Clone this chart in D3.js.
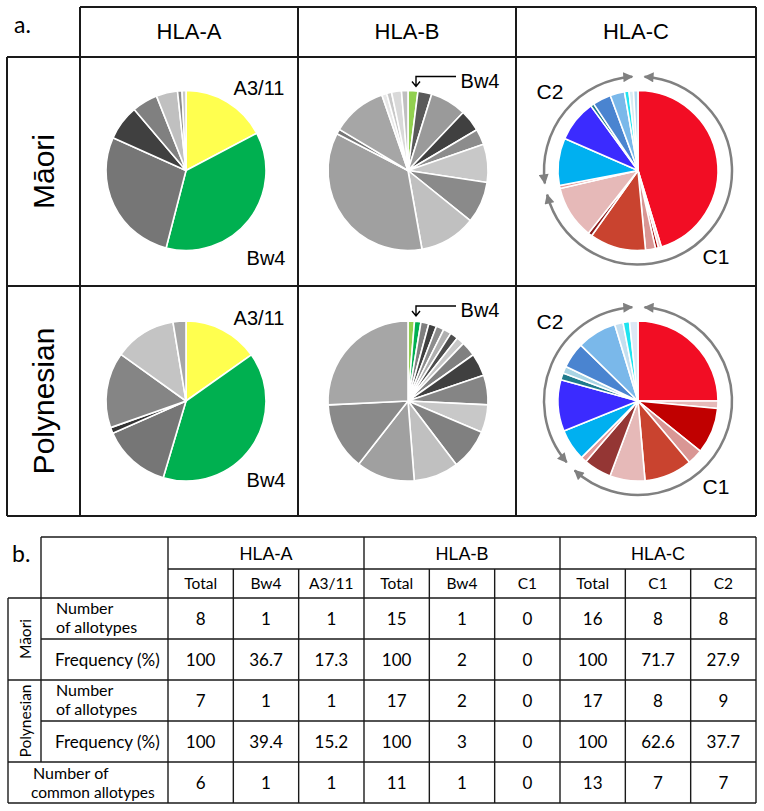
<!DOCTYPE html>
<html><head><meta charset="utf-8">
<script src="https://cdn.jsdelivr.net/npm/d3@7"></script>
<style>body{margin:0;background:#fff}svg{display:block}</style>
</head><body>
<svg id="c" width="764" height="811"></svg>
<script>
// ---------- DATA ----------
const loci = ["HLA-A", "HLA-B", "HLA-C"];
const populations = ["Māori", "Polynesian"];

// HLA-A allotype frequencies (%), clockwise from 12 o'clock
const hlaA_maori = [17.3, 36.7, 27.7, 7.1, 5.2, 4.3, 0.9, 0.8];
const hlaA_maoriColors = ["#ffff4f","#00b050","#767676","#404040","#808080","#c0c0c0","#8c8c8c","#c8c8c8"];
const hlaA_poly = [15.2, 39.4, 13.8, 1.2, 15.3, 12.5, 2.6];
const hlaA_polyColors = ["#ffff4f","#00b050","#767676","#333333","#858585","#c4c4c4","#a6a6a6"];

// HLA-B
const hlaB_maori = [2.0, 2.8, 7.3, 4.4, 3.2, 7.7, 8.4, 11.4, 35.4, 1.0, 11.1, 1.0, 1.0, 2.0, 1.3];
const hlaB_maoriColors = ["#92d050","#595959","#9a9a9a","#404040","#8c8c8c","#c8c8c8","#8a8a8a","#c0c0c0","#a0a0a0","#777777","#a6a6a6","#e8e8e8","#c8c8c8","#d9d9d9","#bfbfbf"];
const hlaB_poly = [1.3, 1.3, 1.6, 1.6, 1.6, 1.6, 1.6, 1.6, 3.0, 4.6, 6.0, 5.6, 8.3, 9.1, 11.8, 13.7, 25.8];
const hlaB_polyColors = ["#92d050","#00b050","#7f7f7f","#404040","#8c8c8c","#b0b0b0","#4d4d4d","#c8c8c8","#808080","#404040","#858585","#c8c8c8","#808080","#c0c0c0","#a0a0a0","#8a8a8a","#a6a6a6"];

// HLA-C
const hlaC_maori = [45.1, 0.6, 0.6, 2.0, 11.3, 0.8, 10.7, 0.6, 9.5, 8.4, 0.7, 3.7, 2.9, 0.9, 0.9, 0.9];
const hlaC_maoriColors = ["#f20d24","#f4c7c7","#a50000","#d99694","#c9432f","#8b1c1c","#e6b9b8","#e39a9a","#00b0f0","#3b2bff","#1f7a8c","#4a84d0","#7ab8ea","#1fe4f0","#d8ecf4","#b4d8ee"];
const hlaC_poly = [25.0, 1.5, 9.3, 3.1, 9.7, 7.1, 5.6, 1.2, 6.4, 10.4, 1.4, 1.4, 5.2, 8.0, 1.7, 1.3, 1.7];
const hlaC_polyColors = ["#f20d24","#e6b9b8","#c00000","#d99694","#c9432f","#e6b9b8","#943634","#e39a9a","#00b0f0","#3b2bff","#1f7a8c","#a8d4e4","#4a84d0","#7ab8ea","#c5dff0","#1fe4f0","#dce8f5"];

// Table
const subHeaders = [["Total","Bw4","A3/11"],["Total","Bw4","C1"],["Total","C1","C2"]];
const maoriNumber = [8, 1, 1, 15, 1, 0, 16, 8, 8];
const maoriFreq   = [100, 36.7, 17.3, 100, 2, 0, 100, 71.7, 27.9];
const polyNumber  = [7, 1, 1, 17, 2, 0, 17, 8, 9];
const polyFreq    = [100, 39.4, 15.2, 100, 3, 0, 100, 62.6, 37.7];
const commonNumber= [6, 1, 1, 11, 1, 0, 13, 7, 7];

// ---------- DRAW ----------
const svg = d3.select("#c");
const FA = "'Liberation Sans', Arial, sans-serif";
const FC = "Lato, 'Open Sans', sans-serif";
const LINE = "#1a1a1a";

// defs: arrowhead marker
const defs = svg.append("defs");
defs.append("marker").attr("id","ah").attr("viewBox","0 0 10 10")
  .attr("refX",9).attr("refY",5).attr("markerWidth",11).attr("markerHeight",10)
  .attr("markerUnits","userSpaceOnUse").attr("orient","auto-start-reverse")
  .append("path").attr("d","M0,0 L10,5 L0,10 z").attr("fill","#808080");

// ----- Part a grid -----
const colEdges = [80, 298, 516, 756];
const rowEdges = [57, 286, 516];
const ga = svg.append("g");
function line(g,x1,y1,x2,y2,w){ g.append("line").attr("x1",x1).attr("y1",y1).attr("x2",x2).attr("y2",y2).attr("stroke",LINE).attr("stroke-width",w); }
line(ga,80,7,756,7,2);
colEdges.forEach(x=>line(ga,x,7,x,516,2));
line(ga,7,57,7,516,2);
rowEdges.forEach(y=>line(ga,7,y,756,y,2));

ga.append("text").attr("x",14).attr("y",33).attr("font-family",FC).attr("font-size",23).text("a.");
loci.forEach((l,i)=>{
  ga.append("text").attr("x",(colEdges[i]+colEdges[i+1])/2).attr("y",39)
    .attr("text-anchor","middle").attr("font-family",FA).attr("font-size",22).text(l);
});
populations.forEach((p,j)=>{
  const cy=(rowEdges[j]+rowEdges[j+1])/2;
  ga.append("text").attr("transform",`translate(54,${cy}) rotate(-90)`)
    .attr("text-anchor","middle").attr("font-family",FA).attr("font-size",30).text(p);
});

const pieSets = [
  [[hlaA_maori,hlaA_maoriColors],[hlaB_maori,hlaB_maoriColors],[hlaC_maori,hlaC_maoriColors]],
  [[hlaA_poly,hlaA_polyColors],[hlaB_poly,hlaB_polyColors],[hlaC_poly,hlaC_polyColors]]
];
const colOffset = [-3, 1, 2];
const R = 80;
const pie = d3.pie().sort(null).value(d=>d);
const arc = d3.arc().innerRadius(0).outerRadius(R);
const centers = [];
pieSets.forEach((row,j)=>{
  centers.push([]);
  row.forEach(([vals,cols],i)=>{
    const cx=(colEdges[i]+colEdges[i+1])/2+colOffset[i];
    const cy=(rowEdges[j]+rowEdges[j+1])/2 - (j===0?1:0);
    centers[j].push([cx,cy]);
    const g=svg.append("g").attr("transform",`translate(${cx},${cy})`);
    g.selectAll("path").data(pie(vals)).join("path")
      .attr("d",arc).attr("fill",(d,k)=>cols[k])
      .attr("stroke","#fff").attr("stroke-width",1.6).attr("stroke-linejoin","round");
  });
});

// HLA-A labels
centers.forEach(([[cx,cy]],j)=>{
  svg.append("text").attr("x",cx+73).attr("y",cy-76).attr("text-anchor","middle")
    .attr("font-family",FA).attr("font-size",20).text("A3/11");
  svg.append("text").attr("x",cx+80).attr("y",cy+ (j===0?94:86)).attr("text-anchor","middle")
    .attr("font-family",FA).attr("font-size",20).text("Bw4");
});
// HLA-B Bw4 pointer labels
centers.forEach((row,j)=>{
  const [cx,cy]=row[1];
  const ty = j===0? cy-83 : cy-84;
  const ly = ty-11;
  const ax = cx+8;
  svg.append("text").attr("x",cx+72).attr("y",ty).attr("text-anchor","middle")
    .attr("font-family",FA).attr("font-size",20).text("Bw4");
  svg.append("path").attr("d",`M${cx+48},${ly} L${ax},${ly} L${ax},${ly+10} M${ax-4},${ly+5} L${ax},${ly+10} L${ax+4},${ly+5}`)
    .attr("fill","none").attr("stroke","#000").attr("stroke-width",1.4);
});
// HLA-C rings with arrows
const c1Freq = [maoriFreq[7], polyFreq[7]];
centers.forEach((row,j)=>{
  const [cx,cy]=row[2];
  const r=94;
  const c1deg = c1Freq[j]/100*360;
  const segs = [[4, c1deg-3],[c1deg+4, 356.5]];
  segs.forEach(([f,t])=>{
    const p=d3.path();
    p.arc(cx,cy,r,(f-90)*Math.PI/180,(t-90)*Math.PI/180,false);
    svg.append("path").attr("d",p.toString()).attr("fill","none").attr("stroke","#808080")
      .attr("stroke-width",2.5).attr("marker-start","url(#ah)").attr("marker-end","url(#ah)");
  });
  svg.append("text").attr("x",cx-88).attr("y",cy-72).attr("text-anchor","middle")
    .attr("font-family",FA).attr("font-size",21).text("C2");
  svg.append("text").attr("x",cx+78).attr("y",cy+93).attr("text-anchor","middle")
    .attr("font-family",FA).attr("font-size",21).text("C1");
});

// ----- Part b table -----
const gb = svg.append("g");
const xCol = d3.scaleBand().domain(d3.range(9)).range([168,756]);
const yRow = d3.scaleBand().domain(d3.range(5)).range([598,803]);
const LW = 1.4;
gb.append("text").attr("x",12).attr("y",562).attr("font-family",FC).attr("font-size",23).text("b.");
// horizontal lines
line(gb,41,537,756,537,LW);
line(gb,168,569,756,569,LW);
line(gb,8,598,756,598,LW);
line(gb,41,yRow(1),756,yRow(1),LW);
line(gb,8,yRow(2),756,yRow(2),LW);
line(gb,41,yRow(3),756,yRow(3),LW);
line(gb,8,yRow(4),756,yRow(4),LW);
line(gb,8,803,756,803,LW);
// vertical lines
line(gb,8,598,8,803,LW);
line(gb,41,537,41,yRow(4),LW);
line(gb,168,537,168,803,LW);
[3,6].forEach(k=>line(gb,xCol(k),537,xCol(k),803,LW));
[1,2,4,5,7,8].forEach(k=>line(gb,xCol(k),569,xCol(k),803,LW));
line(gb,756,537,756,803,LW);

loci.forEach((l,i)=>{
  gb.append("text").attr("x",(xCol(i*3)+xCol(i*3+2)+xCol.bandwidth())/2).attr("y",560)
    .attr("text-anchor","middle").attr("font-family",FA).attr("font-size",18).text(l);
  subHeaders[i].forEach((s,k)=>{
    gb.append("text").attr("x",xCol(i*3+k)+xCol.bandwidth()/2).attr("y",589)
      .attr("text-anchor","middle").attr("font-family",FC).attr("font-size",15.5).text(s);
  });
});
const rowsData = [maoriNumber, maoriFreq, polyNumber, polyFreq, commonNumber];
rowsData.forEach((arr,ri)=>{
  arr.forEach((v,k)=>{
    gb.append("text").attr("x",xCol(k)+xCol.bandwidth()/2).attr("y",yRow(ri)+yRow.bandwidth()/2+6)
      .attr("text-anchor","middle").attr("font-family",FC).attr("font-size",17).text(v);
  });
});
// row labels
function lbl(x,y,t,fs){ gb.append("text").attr("x",x).attr("y",y).attr("font-family",FC).attr("font-size",fs||16).text(t); }
[0,2].forEach(ri=>{
  lbl(56,yRow(ri)+16,"Number");
  lbl(56,yRow(ri)+35,"of allotypes");
});
[1,3].forEach(ri=>lbl(55,yRow(ri)+yRow.bandwidth()/2+6,"Frequency (%)",17));
lbl(33,yRow(4)+17,"Number of");
lbl(31,yRow(4)+36,"common allotypes",15.5);
populations.forEach((p,j)=>{
  const cy = yRow(j*2) + yRow.bandwidth();
  gb.append("text").attr("transform",`translate(31,${cy}) rotate(-90)`).attr("text-anchor","middle")
    .attr("font-family",FC).attr("font-size",15.5).text(p);
});
</script>
</body></html>
